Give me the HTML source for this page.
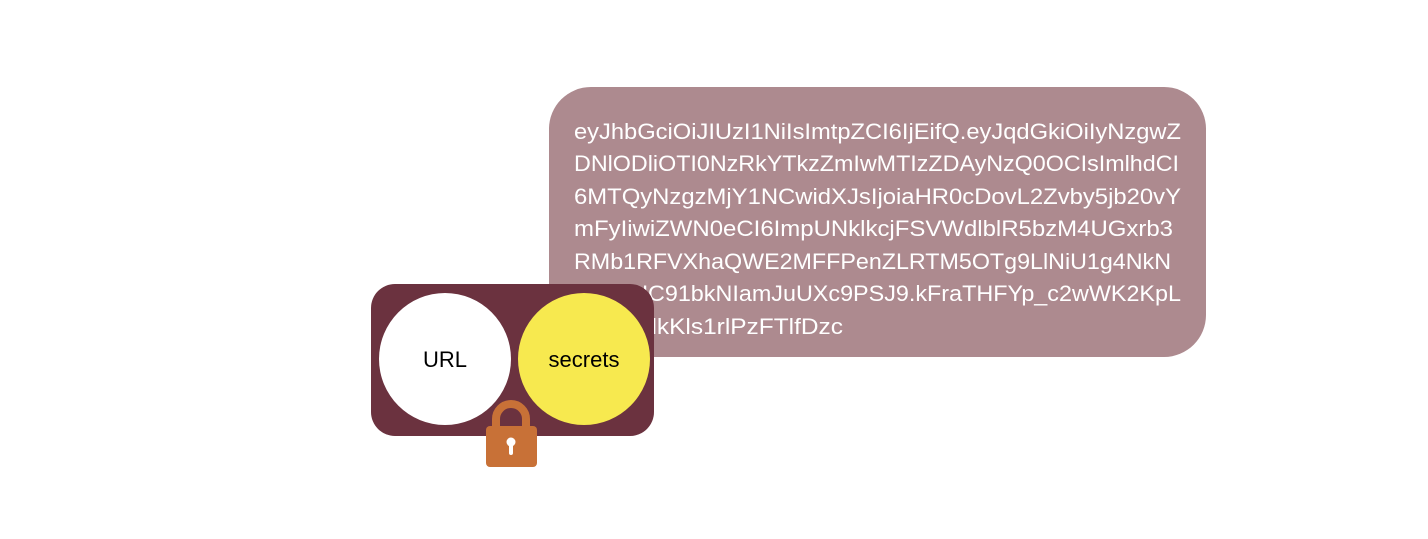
<!DOCTYPE html>
<html><head><style>html,body{margin:0;padding:0;background:#fff}</style></head><body>
<svg width="1428" height="534" viewBox="0 0 1428 534" xmlns="http://www.w3.org/2000/svg">
<rect x="549" y="87" width="657" height="270" rx="42" fill="#ad8a8f"/>
<g font-family="Liberation Sans, sans-serif" font-size="22" fill="#fff">
<text x="574" y="139" textLength="607" lengthAdjust="spacingAndGlyphs">eyJhbGciOiJIUzI1NiIsImtpZCI6IjEifQ.eyJqdGkiOiIyNzgwZ</text>
<text x="574" y="171" textLength="605" lengthAdjust="spacingAndGlyphs">DNlODliOTI0NzRkYTkzZmIwMTIzZDAyNzQ0OCIsImlhdCI</text>
<text x="574" y="204" textLength="607" lengthAdjust="spacingAndGlyphs">6MTQyNzgzMjY1NCwidXJsIjoiaHR0cDovL2Zvby5jb20vY</text>
<text x="574" y="236" textLength="599" lengthAdjust="spacingAndGlyphs">mFyIiwiZWN0eCI6ImpUNklkcjFSVWdlblR5bzM4UGxrb3</text>
<text x="574" y="269" textLength="597" lengthAdjust="spacingAndGlyphs">RMb1RFVXhaQWE2MFFPenZLRTM5OTg9LlNiU1g4NkN</text>
<text x="574" y="301" textLength="607" lengthAdjust="spacingAndGlyphs">UOStUC91bkNIamJuUXc9PSJ9.kFraTHFYp_c2wWK2KpL</text>
<text x="574" y="334" textLength="269" lengthAdjust="spacingAndGlyphs">rJPXvclkKls1rlPzFTlfDzc</text>
</g>
<rect x="371" y="284" width="283" height="152" rx="24" fill="#6b323f"/>
<circle cx="445" cy="359" r="66" fill="#fff"/>
<circle cx="584" cy="359" r="66" fill="#f7e94f"/>
<text x="445" y="367" font-family="Liberation Sans, sans-serif" font-size="22" text-anchor="middle" fill="#000">URL</text>
<text x="584" y="367" font-family="Liberation Sans, sans-serif" font-size="22" text-anchor="middle" fill="#000">secrets</text>
<path d="M496 428 V419 A15 15 0 0 1 526 419 V428" fill="none" stroke="#c87137" stroke-width="8"/>
<rect x="486" y="426" width="51" height="41" rx="4" fill="#c87137"/>
<circle cx="511" cy="442" r="4.5" fill="#fff"/>
<rect x="509" y="442" width="4" height="13" rx="2" fill="#fff"/>
</svg>
</body></html>
